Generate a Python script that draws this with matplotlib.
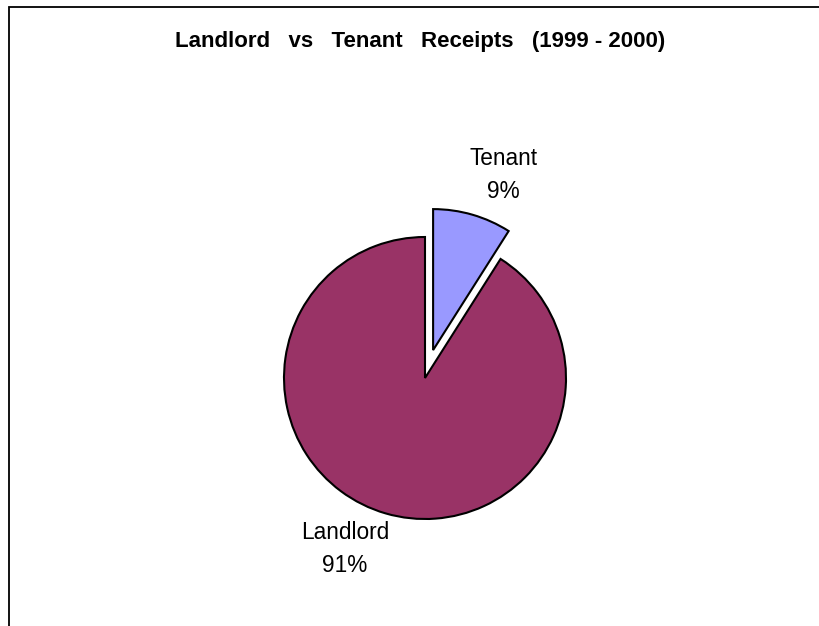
import matplotlib
matplotlib.use("Agg")
import matplotlib.pyplot as plt
from matplotlib.patches import Rectangle

plt.rcParams['font.family'] = ['Liberation Sans', 'DejaVu Sans']

labels = ['Tenant', 'Landlord']
shares = [9, 91]
colors = ['#9999FF', '#993366']
explode = [0.206, 0]

title = "Landlord   vs   Tenant   Receipts   (1999 - 2000)"

fig = plt.figure(figsize=(8.19, 6.26), dpi=100)
W, H = 819, 626

# outer chart frame (right/bottom edges lie outside the picture)
fig.patches.append(Rectangle((9 / W, -0.1), 1.2, 1 - 7 / H + 0.1, transform=fig.transFigure,
                             fill=False, edgecolor='black', linewidth=1.3, zorder=0))

cx, cy, r = 425, 378, 141
ax = fig.add_axes([(cx - r) / W, 1 - (cy + r) / H, 2 * r / W, 2 * r / H])

wedges, _ = ax.pie(shares, colors=colors, explode=explode, startangle=90, counterclock=False,
                   radius=1, center=(0, 0), frame=False,
                   wedgeprops=dict(edgecolor='black', linewidth=1.5))
ax.set_xlim(-1, 1)
ax.set_ylim(-1, 1)
ax.set_aspect('equal')
ax.axis('off')

pos = {'Tenant': (503, 175), 'Landlord': (345, 549)}
for lab, s in zip(labels, shares):
    x, y = pos[lab]
    fig.text(x / W, 1 - y / H, "%s\n%d%%" % (lab, s), ha='center', va='center',
             fontsize=16.3, linespacing=1.55)

fig.text(420 / W, 1 - 41 / H, title, ha='center', va='center', fontsize=16, fontweight='bold')

fig.savefig('out.png', dpi=100)
